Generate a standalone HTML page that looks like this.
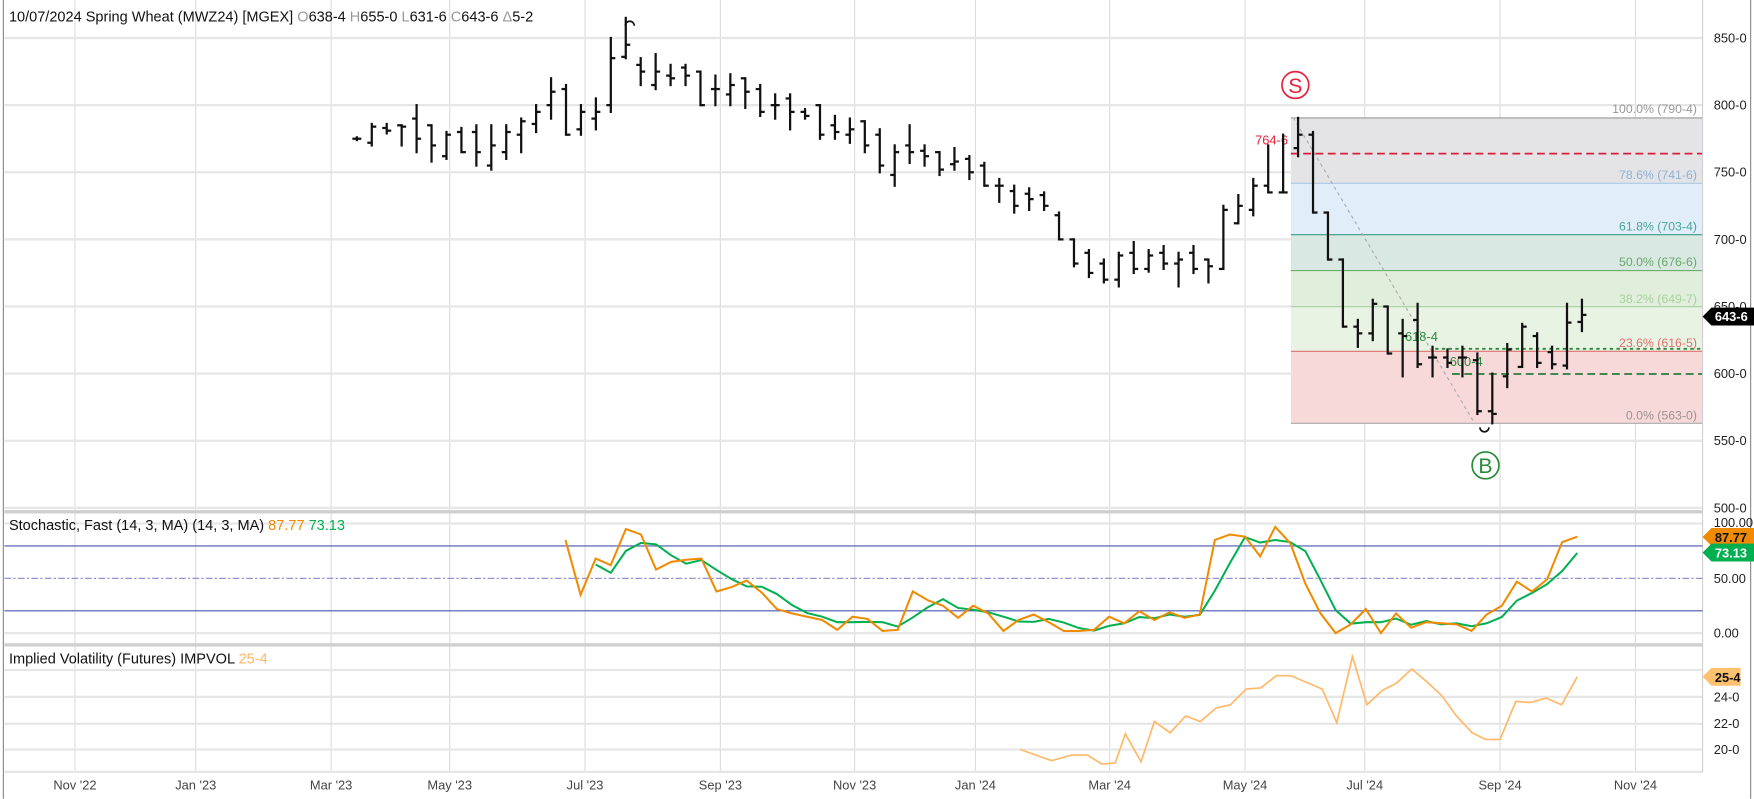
<!DOCTYPE html>
<html><head><meta charset="utf-8"><style>
html,body{margin:0;padding:0;background:#fff;}
svg{display:block;font-family:"Liberation Sans",sans-serif;}
</style></head><body>
<svg id="c" width="1754" height="799" viewBox="0 0 1568 714.25" xmlns="http://www.w3.org/2000/svg">
<rect x="0" y="0" width="1568" height="714.25" fill="#fff"/>
<g id="grid" stroke="#dcdcdc" stroke-width="1"></g>
<!-- fib zones -->
<rect x="1154" y="105.4" width="368" height="58.5" fill="#e4e4e6"/>
<rect x="1154" y="163.9" width="368" height="45.9" fill="#e1eefa"/>
<rect x="1154" y="209.8" width="368" height="32.1" fill="#d9e8e3"/>
<rect x="1154" y="241.9" width="368" height="32.3" fill="#e0eedb"/>
<rect x="1154" y="274.2" width="368" height="39.9" fill="#e8f3e4"/>
<rect x="1154" y="314.1" width="368" height="64.3" fill="#f7d9da"/>
<line x1="1154" y1="105.4" x2="1522" y2="105.4" stroke="#999" />
<line x1="1154" y1="163.9" x2="1522" y2="163.9" stroke="#a9c8e8" />
<line x1="1154" y1="209.8" x2="1522" y2="209.8" stroke="#3a9b8a" />
<line x1="1154" y1="241.9" x2="1522" y2="241.9" stroke="#6ab06a" />
<line x1="1154" y1="274.2" x2="1522" y2="274.2" stroke="#a5d0a0" />
<line x1="1154" y1="314.1" x2="1522" y2="314.1" stroke="#e07070" />
<line x1="1154" y1="378.4" x2="1522" y2="378.4" stroke="#aaa" />
<g font-size="11" text-anchor="end">
<text x="1517" y="101" fill="#999">100.0% (790-4)</text>
<text x="1517" y="160" fill="#8fb0d8">78.6% (741-6)</text>
<text x="1517" y="206" fill="#4aa49a">61.8% (703-4)</text>
<text x="1517" y="238" fill="#6aa86a">50.0% (676-6)</text>
<text x="1517" y="271" fill="#a8d0a0">38.2% (649-7)</text>
<text x="1517" y="310" fill="#e07070">23.6% (616-5)</text>
<text x="1517" y="375" fill="#a09090">0.0% (563-0)</text>
</g>
<line x1="1154" y1="137.3" x2="1522" y2="137.3" stroke="#d81e3a" stroke-width="1.6" stroke-dasharray="7,4"/>
<text x="1122" y="129" font-size="11.5" fill="#e8203a">764-6</text>
<line x1="1283" y1="311.8" x2="1522" y2="311.8" stroke="#2a8a3a" stroke-width="1.6" stroke-dasharray="3,3"/>
<line x1="1298" y1="334.3" x2="1522" y2="334.3" stroke="#2a7a3a" stroke-width="1.6" stroke-dasharray="7,4"/>
<text x="1256" y="305" font-size="11.5" fill="#2a8a3a">618-4</text>
<text x="1296" y="327" font-size="11.5" fill="#2a8a3a">600-4</text>
<line x1="1156" y1="105" x2="1318" y2="378" stroke="#aaa" stroke-dasharray="3,3"/>
<circle cx="1158" cy="76" r="12" fill="none" stroke="#e8203a" stroke-width="1.5"/>
<text x="1158" y="83" font-size="19" fill="#e8203a" text-anchor="middle">S</text>
<circle cx="1328" cy="416" r="12" fill="none" stroke="#2a8a3a" stroke-width="1.5"/>
<text x="1328" y="423" font-size="19" fill="#2a8a3a" text-anchor="middle">B</text>
<g id="bars" stroke="#111" stroke-width="2" fill="none"></g>
<path d="M559,23 a4,4 0 0 1 8,0" stroke="#111" stroke-width="1.5" fill="none"/>
<path d="M1323,382 a4,4 0 0 0 8,0" stroke="#111" stroke-width="1.5" fill="none"/>
<!-- panel separators -->
<rect x="4" y="456" width="1518" height="3" fill="#cfcfcf"/>
<rect x="4" y="575" width="1518" height="3" fill="#cfcfcf"/>
<line x1="1522" y1="0" x2="1522" y2="690" stroke="#cfcfcf"/>
<line x1="3" y1="0" x2="3" y2="714" stroke="#888"/>
<line x1="1565" y1="0" x2="1565" y2="714" stroke="#888"/>
<!-- stoch lines -->
<line x1="4" y1="488" x2="1522" y2="488" stroke="#4a55b0"/>
<line x1="4" y1="546" x2="1522" y2="546" stroke="#4a55b0"/>
<line x1="4" y1="517" x2="1522" y2="517" stroke="#8888cc" stroke-dasharray="6,2,2,2"/>
<polyline id="kd" fill="none" stroke="#00b050" stroke-width="1.8"/>
<polyline id="kk" fill="none" stroke="#f08a00" stroke-width="1.8"/>
<polyline id="iv" fill="none" stroke="#ffb866" stroke-width="1.5"/>
<!-- header texts -->
<text x="8" y="19" font-size="13" fill="#111">10/07/2024 Spring Wheat (MWZ24) [MGEX]  <tspan fill="#999">O</tspan>638-4 <tspan fill="#999">H</tspan>655-0 <tspan fill="#999">L</tspan>631-6 <tspan fill="#999">C</tspan>643-6 <tspan fill="#999">Δ</tspan>5-2</text>
<text x="8" y="474" font-size="13" fill="#111">Stochastic, Fast (14, 3, MA)  (14, 3, MA) <tspan fill="#f08a00">87.77</tspan> <tspan fill="#00b050">73.13</tspan></text>
<text x="8" y="593" font-size="13" fill="#111">Implied Volatility (Futures)  IMPVOL <tspan fill="#ffb866">25-4</tspan></text>
<!-- right axis -->
<g font-size="11.5" fill="#222">
<text x="1532" y="38">850-0</text><text x="1532" y="98">800-0</text><text x="1532" y="158">750-0</text>
<text x="1532" y="218">700-0</text><text x="1532" y="278">650-0</text><text x="1532" y="338">600-0</text>
<text x="1532" y="398">550-0</text><text x="1532" y="458">500-0</text>
<text x="1532" y="471">100.00</text><text x="1532" y="521">50.00</text><text x="1532" y="570">0.00</text>
<text x="1532" y="627">24-0</text><text x="1532" y="651">22-0</text><text x="1532" y="674">20-0</text>
</g>
<polygon points="1522,283 1530,275 1568,275 1568,291 1530,291" fill="#000"/>
<text x="1533" y="287" font-size="11.5" font-weight="bold" fill="#fff">643-6</text>
<polygon points="1522,480 1530,472 1568,472 1568,488 1530,488" fill="#f08a00"/>
<text x="1533" y="484.5" font-size="11.5" font-weight="bold" fill="#111">87.77</text>
<polygon points="1522,494 1530,486 1568,486 1568,502 1530,502" fill="#00b050"/>
<text x="1533" y="498.5" font-size="11.5" font-weight="bold" fill="#fff">73.13</text>
<polygon points="1522,605 1530,597 1556,597 1556,613 1530,613" fill="#ffc070"/>
<text x="1533" y="609.5" font-size="11.5" font-weight="bold" fill="#111">25-4</text>
<g id="xl" font-size="11.5" fill="#444" text-anchor="middle"></g>
</svg>
<script>
var NS="http://www.w3.org/2000/svg";
function el(p,t,a){var e=document.createElementNS(NS,t);for(var k in a)e.setAttribute(k,a[k]);p.appendChild(e);return e;}
var g=document.getElementById('grid');
var vx=[67,175,296,402,523,644,764,872,992,1113,1220,1341,1462];
var lab=["Nov '22","Jan '23","Mar '23","May '23","Jul '23","Sep '23","Nov '23","Jan '24","Mar '24","May '24","Jul '24","Sep '24","Nov '24"];
var xl=document.getElementById('xl');
vx.forEach(function(x,i){el(g,'line',{x1:x,y1:0,x2:x,y2:690});var t=el(xl,'text',{x:x,y:706});t.textContent=lab[i];});
[34,94,154,214,274,334,394,454,468,566,599,623,647,670,690].forEach(function(y){el(g,'line',{x1:4,y1:y,x2:1522,y2:y,'stroke-width':2,stroke:'#e6e6e6'});});
function py(p){return 34+(850-p)*1.2;}
var B=[[775,776,774,775],[772,786,770,784],[783,786,779,781],[785,785,770,784],[790,800,765,775],[785,785,758,770],[762,780,760,778],[780,783,765,765],[780,785,755,765],[755,785,752,770],[765,785,760,780],[778,790,765,788],[786,800,780,795],[800,820,790,810],[812,815,778,778],[782,800,778,795],[790,805,782,795],[800,850,795,835],[836,865,835,845],[830,835,815,825],[815,838,812,825],[822,830,815,820],[828,830,815,822],[825,825,800,800],[812,822,800,812],[808,823,800,815],[820,820,798,810],[812,815,792,795],[800,808,790,800],[805,808,782,795],[795,797,790,792],[800,800,775,778],[785,792,775,780],[778,790,772,782],[788,788,765,770],[778,782,750,755],[748,770,740,765],[770,785,757,765],[766,770,755,762],[765,765,748,752],[756,768,752,758],[760,762,745,750],[755,757,740,740],[740,745,728,740],[736,740,720,725],[734,738,722,730],[733,735,722,725],[718,720,700,700],[700,700,680,682],[690,692,672,675],[682,685,668,670],[670,690,665,688],[690,698,675,678],[678,692,676,688],[690,695,678,682],[682,690,665,685],[690,695,675,678],[685,685,668,680],[678,725,678,722],[712,733,712,725],[722,745,718,740],[740,770,735,735],[735,778,735,735],[768,790.5,762,778],[778,780,720,720],[720,720,685,685],[685,685,635,635],[635,640,620,630],[630,655,625,652],[650,650,615,615],[630,640,598,628],[640,652,605,607],[612,620,598,612],[612,618,605,608],[612,620,598,612],[610,615,570,572],[572,600,563,570],[598,622,590,618],[605,637,605,635],[628,630,605,608],[616,620,604,607],[606,652,604,638],[638.5,655,631.75,643.75]];
var bg=document.getElementById('bars');
B.forEach(function(b,i){var x=319+i*13.356;
el(bg,'line',{x1:x,y1:py(b[1])-1,x2:x,y2:py(b[2])+1});
el(bg,'line',{x1:x-4,y1:py(b[0]),x2:x,y2:py(b[0])});
el(bg,'line',{x1:x,y1:py(b[3]),x2:x+4,y2:py(b[3])});});
var K=[85,35,68,62,95,90,58,65,67,68,38,42,48,37,22,18,15,12,3,15,13,2,3,38,30,25,14,25,18,2,12,17,10,2,2,3,15,9,20,12,19,14,17,85,90,88,70,97,82,45,18,0,8,22,0,18,5,10,9,8,2,17,25,47,38,49,83,88];
function sy(v){return 566-v*0.98;}
var x0=1410-(K.length-1)*13.5;
var kp=[],dp=[];
K.forEach(function(v,i){var x=x0+i*13.5;kp.push(x+','+sy(v));if(i>=2){var d=(K[i]+K[i-1]+K[i-2])/3;dp.push(x+','+sy(d));}});
dp[dp.length-1]=(x0+(K.length-1)*13.5)+','+sy(73.13);
document.getElementById('kk').setAttribute('points',kp.join(' '));
document.getElementById('kd').setAttribute('points',dp.join(' '));
var IV=[[912,670],[940,680],[958,675],[972,675],[985,683],[997,682],[1006,656],[1020,681],[1032,645],[1046,655],[1060,640],[1073,645],[1087,633],[1100,630],[1114,616],[1127,615],[1141,604],[1154,604],[1168,610],[1182,616],[1195,646],[1209,587],[1222,630],[1236,617],[1248,611],[1262,598],[1275,609],[1289,622],[1302,640],[1316,655],[1328,661],[1341,661],[1355,627],[1368,628],[1382,624],[1396,630],[1410,605]];
document.getElementById('iv').setAttribute('points',IV.map(function(p){return p.join(',');}).join(' '));
</script>
</body></html>
